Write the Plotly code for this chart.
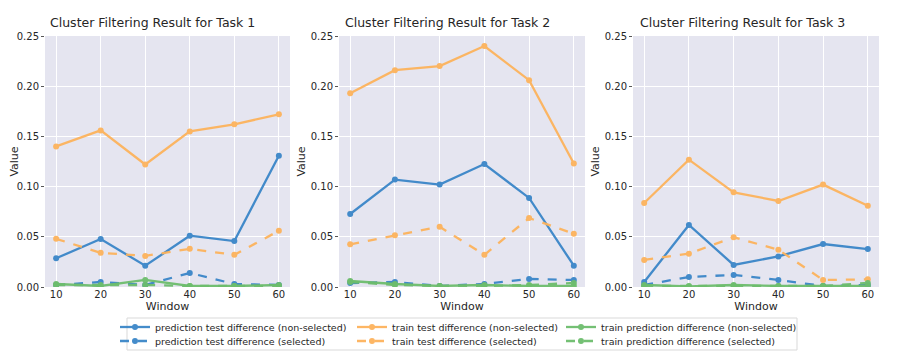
import plotly.graph_objects as go
from plotly.subplots import make_subplots

# data
windows = [10, 20, 30, 40, 50, 60]
tasks = ["Task 1", "Task 2", "Task 3"]

pred_test_nonsel = [
    [0.0286, 0.0478, 0.0212, 0.0511, 0.0458, 0.1308],
    [0.0727, 0.1070, 0.1020, 0.1225, 0.0887, 0.0212],
    [0.0050, 0.0618, 0.0220, 0.0305, 0.0428, 0.0378],
]
pred_test_sel = [
    [0.0020, 0.0050, 0.0020, 0.0140, 0.0030, 0.0020],
    [0.0040, 0.0050, 0.0010, 0.0030, 0.0080, 0.0070],
    [0.0020, 0.0100, 0.0120, 0.0070, 0.0010, 0.0020],
]
train_test_nonsel = [
    [0.140, 0.156, 0.122, 0.155, 0.162, 0.172],
    [0.193, 0.216, 0.220, 0.240, 0.206, 0.123],
    [0.0837, 0.1268, 0.0943, 0.0857, 0.1020, 0.0810],
]
train_test_sel = [
    [0.048, 0.034, 0.031, 0.038, 0.032, 0.056],
    [0.0425, 0.0515, 0.0600, 0.0320, 0.0687, 0.0530],
    [0.0270, 0.0332, 0.0495, 0.0372, 0.0070, 0.0076],
]
train_pred_nonsel = [
    [0.0030, 0.0010, 0.0070, 0.0010, 0.0010, 0.0020],
    [0.0060, 0.0030, 0.0010, 0.0020, 0.0010, 0.0010],
    [0.0020, 0.0005, 0.0020, 0.0010, 0.0010, 0.0010],
]
train_pred_sel = [
    [0.0020, 0.0020, 0.0020, 0.0010, 0.0010, 0.0010],
    [0.0050, 0.0020, 0.0010, 0.0010, 0.0020, 0.0040],
    [0.0010, 0.0010, 0.0010, 0.0010, 0.0010, 0.0040],
]

BLUE = "#3a86c8"
ORANGE = "#fdb35c"
GREEN = "#6dbd6d"
FONT = "DejaVu Sans"
TXT = "#262626"

# the page body has an 8px margin, so the figure is a bit smaller than the window
# and positions below are given in window pixels then shifted
OFF = 8
W, H = 897 - OFF, 359 - OFF


def px_x(p):
    return (p - OFF) / W


def px_y(p):
    return (H - (p - OFF)) / H


series = [
    # name, data, color, dash, legend id
    ("prediction test difference (non-selected)", pred_test_nonsel, BLUE, "solid", "legend"),
    ("prediction test difference (selected)", pred_test_sel, BLUE, "dash", "legend2"),
    ("train test difference (non-selected)", train_test_nonsel, ORANGE, "solid", "legend3"),
    ("train test difference (selected)", train_test_sel, ORANGE, "dash", "legend4"),
    ("train prediction difference (non-selected)", train_pred_nonsel, GREEN, "solid", "legend5"),
    ("train prediction difference (selected)", train_pred_sel, GREEN, "dash", "legend6"),
]

fig = make_subplots(rows=1, cols=3)

for t in range(3):
    for name, data, color, dash, leg in series:
        fig.add_trace(go.Scatter(
            x=windows, y=data[t], name=name, mode="lines+markers",
            line=dict(color=color, width=2.3, dash=dash),
            marker=dict(color=color, size=6),
            opacity=0.95,
            showlegend=(t == 0), legend=leg,
        ), row=1, col=t + 1)

# panel placement in window pixels
panels = [(45, 290), (339, 585), (633, 879)]
title_centers = [152, 447, 742]
y_top, y_bot = 36, 287

for i, (x0, x1) in enumerate(panels):
    fig.update_xaxes(domain=[px_x(x0), px_x(x1)], range=[7.5, 62.5],
                     tickvals=windows, showgrid=True, gridcolor="white", gridwidth=1,
                     zeroline=False, showline=False, ticks="",
                     tickfont=dict(family=FONT, size=10, color=TXT),
                     title=dict(text="Window", font=dict(family=FONT, size=11, color=TXT), standoff=2),
                     row=1, col=i + 1)
    fig.update_yaxes(domain=[px_y(y_bot), px_y(y_top)], range=[0, 0.25],
                     tickvals=[0, 0.05, 0.10, 0.15, 0.20, 0.25], tickformat=".2f",
                     showgrid=True, gridcolor="white", gridwidth=1,
                     zeroline=False, showline=False,
                     ticks="outside", ticklen=3, tickcolor="#555555",
                     tickfont=dict(family=FONT, size=10, color=TXT),
                     title=dict(text="Value", font=dict(family=FONT, size=11, color=TXT), standoff=2),
                     row=1, col=i + 1)
    fig.add_annotation(text="Cluster Filtering Result for " + tasks[i],
                       x=px_x(title_centers[i]), y=px_y(22), xref="paper", yref="paper",
                       xanchor="center", yanchor="middle", showarrow=False,
                       font=dict(family=FONT, size=12.5, color=TXT))

# legend frame
fig.add_shape(type="rect", xref="paper", yref="paper",
              x0=px_x(127), x1=px_x(797), y0=px_y(350), y1=px_y(318),
              line=dict(color="#d9d9d9", width=1), fillcolor="white")

leg_style = dict(bgcolor="rgba(0,0,0,0)", borderwidth=0, orientation="v",
                 xanchor="left", yanchor="middle",
                 font=dict(family=FONT, size=9.5, color=TXT), itemwidth=30)
col_x = [115, 352, 561]
row_y = [327, 341]
legend_ids = ["legend", "legend2", "legend3", "legend4", "legend5", "legend6"]
fig.update_layout(**{
    lid: dict(x=px_x(col_x[k // 2]), y=px_y(row_y[k % 2]), **leg_style)
    for k, lid in enumerate(legend_ids)
})

fig.update_layout(
    width=W, height=H,
    margin=dict(l=0, r=0, t=0, b=0, autoexpand=False),
    paper_bgcolor="white",
    plot_bgcolor="#e5e5f0",
    font=dict(family=FONT, color=TXT),
)

fig.write_html("out.html")
